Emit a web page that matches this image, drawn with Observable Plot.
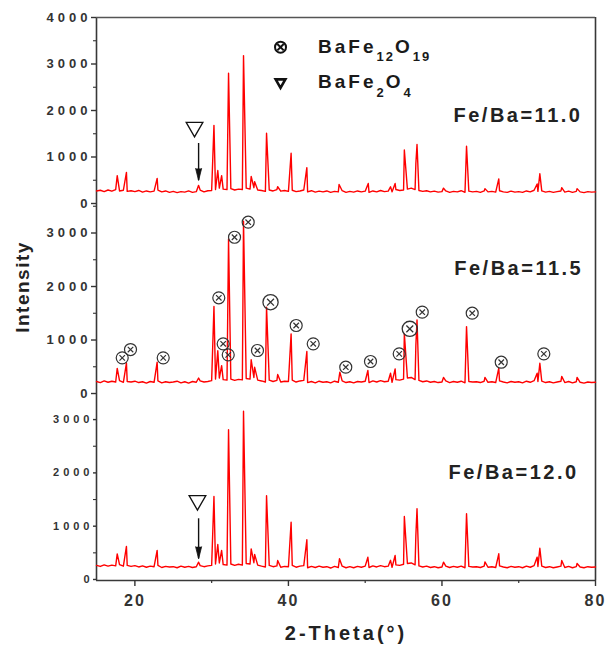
<!DOCTYPE html>
<html><head><meta charset="utf-8">
<script src="https://cdn.jsdelivr.net/npm/d3@7"></script>
<script src="https://cdn.jsdelivr.net/npm/@observablehq/plot@0.6"></script>
<style>
body{margin:0;background:#fff;}
#wrap{position:relative;width:608px;height:645px;overflow:hidden;background:#fff;font-family:"Liberation Sans",Arial,sans-serif;}
#wrap svg{position:absolute;left:0;overflow:visible;background:none;}
</style></head><body><div id="wrap"></div>
<script>
// ---------- data ----------
const thetaDomain = [15, 80];
const xTicks = [20, 40, 60, 80];
const xMinorTicks = [30, 50, 70];
const baseStart = 15, baseStep = 0.5;   // baseline readings every 0.5° from 15° to 80°

const base110 = [
 270,285,255,290,265,300,270,285,260,275,
 255,280,245,270,250,265,290,250,270,240,
 260,235,255,245,270,240,255,290,250,275,
 280,300,330,310,300,320,290,310,300,330,
 310,340,290,280,260,290,270,300,265,280,
 260,285,255,270,290,250,275,245,265,250,
 270,240,260,250,275,240,260,245,270,250,
 265,240,270,250,280,255,265,250,300,280,
 290,310,330,300,280,260,275,250,265,245,
 255,270,240,260,250,275,240,265,250,260,
 240,270,250,260,245,275,250,240,265,245,
 255,240,270,250,285,260,270,245,260,240,
 255,270,245,265,240,260,250,235,255,245,
 250];
const peaks110 = [[17.7,600],[18.9,670],[22.9,540],[28.3,390],[30.3,1680],[30.8,710],[31.3,600],[32.2,2800],[34.15,3180],[35.15,580],[35.6,470],[37.15,1510],[38.6,360],[40.35,1080],[42.4,770],[46.6,410],[50.4,430],[53.3,360],[53.9,430],[55.1,1150],[56.6,860],[56.75,1270],[60.2,330],[63.2,1230],[65.6,320],[67.4,530],[72.4,420],[72.75,640],[75.6,340],[77.6,320]];

const base115 = [
 225,205,235,210,230,215,240,210,225,215,
 230,205,220,195,225,210,235,200,220,205,
 215,230,200,220,195,225,210,235,215,225,
 240,270,290,260,250,270,245,265,255,280,
 270,300,250,235,215,250,225,245,215,230,
 225,250,215,235,245,205,225,200,230,210,
 220,200,230,210,235,205,220,200,225,215,
 230,205,235,215,240,220,230,210,260,250,
 270,290,300,260,245,220,235,210,225,205,
 215,235,205,225,210,230,200,225,215,220,
 205,230,210,220,205,235,215,200,225,210,
 220,200,230,210,240,225,230,205,220,200,
 215,230,205,225,200,220,210,195,215,205,
 210];
const peaks115 = [[17.7,470],[18.9,570],[22.9,585],[28.3,290],[30.3,1625],[30.8,800],[31.3,520],[32.2,2890],[34.15,3220],[35.15,630],[35.6,490],[37.15,1615],[38.6,355],[40.35,1115],[42.4,785],[46.7,400],[50.35,430],[53.3,380],[53.9,460],[55.1,1115],[56.6,900],[56.75,1375],[60.2,300],[63.2,1250],[65.6,300],[67.4,475],[72.4,380],[72.75,565],[75.6,320],[77.6,300]];

const base120 = [
 265,245,275,250,270,255,280,250,265,245,
 260,235,255,230,250,240,265,225,245,235,
 240,220,250,230,245,225,240,260,240,255,
 265,290,310,280,270,290,265,285,270,300,
 290,315,270,250,235,265,240,255,230,245,
 240,265,230,250,260,220,245,225,250,230,
 240,215,245,225,250,220,240,220,245,230,
 250,225,255,235,260,240,250,230,275,265,
 285,300,310,275,255,235,250,225,240,220,
 235,250,225,245,230,250,220,245,235,240,
 225,250,230,240,225,255,235,220,245,230,
 240,220,250,230,260,245,250,225,240,220,
 235,250,225,245,220,240,235,220,240,230,
 235];
const peaks120 = [[17.7,480],[18.9,620],[22.9,545],[28.3,325],[30.3,1557],[30.8,656],[31.3,544],[32.2,2808],[34.15,3158],[35.15,575],[35.6,470],[37.15,1570],[38.6,356],[40.35,1075],[42.4,745],[46.65,388],[50.35,418],[53.3,360],[53.9,450],[55.1,1182],[56.6,825],[56.75,1326],[60.2,325],[63.2,1232],[65.6,330],[67.4,482],[72.4,420],[72.75,587],[75.6,356],[77.6,300]];

const sampleLabels = ["Fe/Ba=11.0", "Fe/Ba=11.5", "Fe/Ba=12.0"];
const labelT = [78.3, 78.4, 77.8];
const labelI = [1892, 2336, 2007];

const yTicks = [[0,1000,2000,3000,4000],[0,1000,2000,3000],[0,1000,2000,3000]];
const yMinorTicks = [[500,1500,2500,3500],[500,1500,2500,3500],[500,1500,2500]];

// BaFe12O19 reflections marked in the Fe/Ba=11.5 pattern
const hexT = [18.35,19.43,23.69,30.93,31.50,32.16,32.98,34.76,35.97,37.67,41.01,43.23,47.47,50.69,54.43,55.81,57.43,63.94,67.72,73.27];
const hexI = [667,822,667,1789,929,723,2921,3202,804,1707,1271,929,492,598,742,1209,1520,1501,585,742];
const hexBig = [0,0,0,0,0,0,0,0,0,1,0,0,0,0,0,1,0,0,0,0];

// BaFe2O4 markers (panel 0 and panel 2)
const spinelT = [27.77, 28.15];
const spinelI = [1641, 1482];
const arrowT = [28.3, 28.3];
const arrowFrom = [1290, 1139];
const arrowTo = [495, 388];

const legendT = 38.97;
const legendI = [3361, 2609];

// ---------- layout ----------
const W = 608, ML = 96, MR = 13;
const axisColor = "#383838";
const panels = [
  {top:0,   height:205, mt:17, mb:0,  dom:[-43,4000], base:base110, peaks:peaks110, font:13, ls:4, tick:5},
  {top:205, height:190, mt:0,  mb:0,  dom:[-37,3514], base:base115, peaks:peaks115, font:13, ls:4, tick:5},
  {top:395, height:250, mt:0,  mb:65, dom:[-19,3452], base:base120, peaks:peaks120, font:11, ls:4, tick:3}
];

function series(base, peaks) {
  const pts = base.map((v, k) => ({t: baseStart + k * baseStep, i: v}));
  peaks.forEach(([t, i]) => pts.push({t, i}));
  return pts.sort((a, b) => a.t - b.t);
}

const wrap = document.getElementById("wrap");
const plots = [];

panels.forEach((p, k) => {
  const marks = [
    Plot.ruleX(thetaDomain, {stroke: axisColor, strokeWidth: 1.6}),
    Plot.axisY(yTicks[k], {tickSize: p.tick, tickPadding: 0, tickFormat: d => String(d), fontSize: p.font, fontWeight: "bold", label: null, color: "#333", strokeWidth: 1.4}),
    Plot.axisY(yMinorTicks[k], {tickSize: 3, tickFormat: () => "", label: null, color: "#333", strokeWidth: 1.1}),
    Plot.line(series(p.base, p.peaks), {x: "t", y: "i", stroke: "#ff0000", strokeWidth: 1.4}),
    Plot.text([{t: labelT[k], i: labelI[k], s: sampleLabels[k]}], {x: "t", y: "i", text: "s", textAnchor: "end", lineAnchor: "middle", fontSize: 20, fontWeight: "bold", fill: "#222"})
  ];
  if (k === 0) {
    marks.push(Plot.ruleY([p.dom[1]], {stroke: "#555", strokeWidth: 1.6}));
    // legend symbols
    marks.push(Plot.dot([{t: legendT, i: legendI[0]}], {x: "t", y: "i", r: 5.5, stroke: "#111", strokeWidth: 2, fill: "white"}));
    marks.push(Plot.dot([{t: legendT, i: legendI[0]}], {x: "t", y: "i", r: 3, symbol: "times", stroke: "#111", strokeWidth: 2}));
    marks.push(Plot.dot([{t: legendT, i: legendI[1]}], {x: "t", y: "i", r: 3.6, symbol: "triangle", rotate: 180, stroke: "#111", strokeWidth: 2.6, fill: "white"}));
  }
  if (k === 0 || k === 2) {
    const j = k === 0 ? 0 : 1;
    marks.push(Plot.dot([{t: spinelT[j], i: spinelI[j]}], {x: "t", y: "i", r: 6.2, symbol: "triangle", rotate: 180, stroke: "#111", strokeWidth: 1.3, fill: "white"}));
    marks.push(Plot.ruleX([{t: arrowT[j], a: arrowFrom[j], b: arrowTo[j]}], {x: "t", y1: "a", y2: "b", stroke: "#111", strokeWidth: 1.4}));
    marks.push(Plot.vector([{t: arrowT[j], i: arrowTo[j]}], {x: "t", y: "i", length: 12, rotate: 180, shape: "spike", anchor: "end", r: 3, fill: "#111", stroke: "#111", strokeWidth: 0.8}));
  }
  if (k === 1) {
    const hex = hexT.map((t, n) => ({t, i: hexI[n], big: hexBig[n]}));
    const small = hex.filter(d => !d.big), big = hex.filter(d => d.big);
    marks.push(Plot.dot(small, {x: "t", y: "i", r: 6, stroke: "#333", strokeWidth: 1.2, fill: "none"}));
    marks.push(Plot.dot(big, {x: "t", y: "i", r: 7.6, stroke: "#333", strokeWidth: 1.3, fill: "none"}));
    marks.push(Plot.dot(small, {x: "t", y: "i", r: 2.6, symbol: "times", stroke: "#333", strokeWidth: 1.2}));
    marks.push(Plot.dot(big, {x: "t", y: "i", r: 3.2, symbol: "times", stroke: "#333", strokeWidth: 1.3}));
  }
  if (k === 2) {
    marks.push(Plot.ruleY([p.dom[0]], {stroke: axisColor, strokeWidth: 1.6}));
    marks.push(Plot.axisX(xTicks, {tickSize: 6, tickPadding: 8, tickFormat: d => String(d), fontSize: 16, fontWeight: "bold", label: null, color: "#333", strokeWidth: 1.4}));
    marks.push(Plot.axisX(xMinorTicks, {tickSize: 3, tickFormat: () => "", label: null, color: "#333", strokeWidth: 1.2}));
  }
  const svg = Plot.plot({
    width: W, height: p.height,
    marginLeft: ML, marginRight: MR, marginTop: p.mt, marginBottom: p.mb,
    x: {domain: thetaDomain, axis: null},
    y: {domain: p.dom, axis: null},
    style: {fontFamily: '"Liberation Sans", Arial, sans-serif', color: "#333", background: "transparent", overflow: "visible"},
    marks
  });
  svg.style.top = p.top + "px";
  svg.style.overflow = "visible";
  const s = d3.select(svg);
  s.selectAll('g[aria-label="y-axis tick label"] text').style("letter-spacing", p.ls + "px").style("font-weight", "bold").style("font-size", p.font + "px");
  s.selectAll('g[aria-label="x-axis tick label"] text').style("letter-spacing", "2px").style("font-weight", "bold").style("font-size", "16px");
  s.selectAll('g[aria-label="text"] text').style("letter-spacing", "2.5px");
  wrap.appendChild(svg);
  plots.push(svg);
});

// ---------- overlay texts ----------
const ov = d3.create("svg").attr("width", W).attr("height", 645).style("top", "0px")
  .attr("font-family", '"Liberation Sans", Arial, sans-serif');
const xs = plots[0].scale("x"), ys = plots[0].scale("y");
const lx = xs.apply(legendT) + 38;
const leg1 = ov.append("text").attr("x", lx).attr("y", ys.apply(legendI[0]) + 6.6)
  .attr("font-size", 19).attr("font-weight", "bold").attr("fill", "#1a1a1a").style("letter-spacing", "3px");
leg1.append("tspan").text("BaFe");
leg1.append("tspan").attr("font-size", 13).attr("dy", 8).style("letter-spacing", "2px").text("12");
leg1.append("tspan").attr("dy", -8).text("O");
leg1.append("tspan").attr("font-size", 13).attr("dy", 8).style("letter-spacing", "2px").text("19");
const leg2 = ov.append("text").attr("x", lx).attr("y", ys.apply(legendI[1]) + 6.6)
  .attr("font-size", 19).attr("font-weight", "bold").attr("fill", "#1a1a1a").style("letter-spacing", "3px");
leg2.append("tspan").text("BaFe");
leg2.append("tspan").attr("font-size", 13).attr("dy", 9).style("letter-spacing", "2px").text("2");
leg2.append("tspan").attr("dy", -9).text("O");
leg2.append("tspan").attr("font-size", 13).attr("dy", 9).style("letter-spacing", "2px").text("4");

ov.append("text").attr("transform", "translate(29,287) rotate(-90)").attr("text-anchor", "middle")
  .attr("font-size", 19).attr("font-weight", "bold").attr("fill", "#222").style("letter-spacing", "1.5px").text("Intensity");
ov.append("text").attr("x", 346).attr("y", 640).attr("text-anchor", "middle")
  .attr("font-size", 20).attr("font-weight", "bold").attr("fill", "#222").style("letter-spacing", "3px").text("2-Theta(°)");
wrap.appendChild(ov.node());
</script></body></html>
